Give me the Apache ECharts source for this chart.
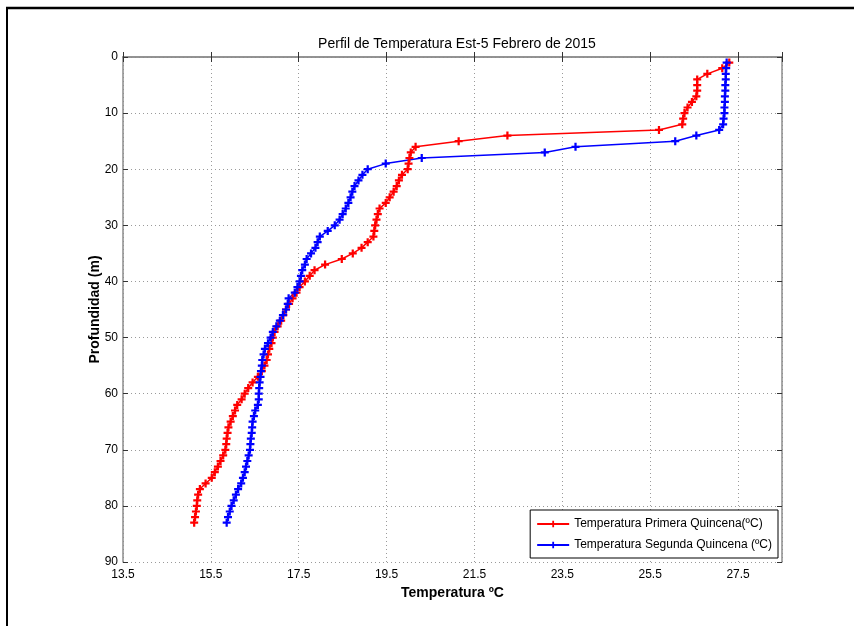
<!DOCTYPE html>
<html>
<head>
<meta charset="utf-8">
<script src="https://cdn.jsdelivr.net/npm/echarts@6/dist/echarts.min.js"></script>
<style>
  html, body { margin: 0; padding: 0; background: #fff; }
  #chart { width: 854px; height: 626px; }
</style>
</head>
<body>
<div id="chart"></div>
<script>
// profundidad (m), 1..83
var depths = [];
for (var d = 1; d <= 83; d++) depths.push(d);

var tempPrimera = [
    27.30, 27.14, 26.80, 26.57, 26.57, 26.57, 26.55, 26.45, 26.35, 26.28,
    26.25, 26.23, 25.70, 22.25, 21.14, 20.16, 20.05, 20.02, 20.00, 19.98,
    19.85, 19.78, 19.73, 19.66, 19.57, 19.48, 19.34, 19.30, 19.27, 19.24,
    19.22, 19.20, 19.07, 18.93, 18.73, 18.48, 18.10, 17.86, 17.75, 17.64,
    17.52, 17.45, 17.36, 17.28, 17.21, 17.15, 17.10, 17.02, 16.95, 16.91,
    16.88, 16.83, 16.80, 16.77, 16.72, 16.66, 16.57, 16.45, 16.35, 16.27,
    16.20, 16.10, 16.05, 16.00, 15.95, 15.90, 15.88, 15.86, 15.85, 15.83,
    15.78, 15.72, 15.66, 15.59, 15.52, 15.38, 15.25, 15.21, 15.19, 15.18,
    15.16, 15.14, 15.12
];

var tempSegunda = [
    27.24, 27.23, 27.22, 27.22, 27.21, 27.21, 27.20, 27.20, 27.19, 27.19,
    27.17, 27.16, 27.07, 26.55, 26.07, 23.80, 23.10, 20.30, 19.48, 19.07,
    18.95, 18.86, 18.77, 18.72, 18.68, 18.63, 18.57, 18.50, 18.43, 18.32,
    18.16, 17.98, 17.93, 17.88, 17.78, 17.68, 17.64, 17.58, 17.55, 17.52,
    17.47, 17.41, 17.27, 17.25, 17.21, 17.14, 17.07, 16.99, 16.91, 16.86,
    16.80, 16.73, 16.70, 16.67, 16.66, 16.64, 16.63, 16.61, 16.60, 16.59,
    16.59, 16.57, 16.51, 16.48, 16.45, 16.44, 16.43, 16.41, 16.40, 16.39,
    16.36, 16.33, 16.30, 16.27, 16.23, 16.19, 16.12, 16.07, 16.02, 15.97,
    15.93, 15.89, 15.86
];

var xTicks = { min: 13.5, max: 28.5, interval: 2 };
var yTicks = { min: 0, max: 90, interval: 10 };

var seriesNames = ['Temperatura Primera Quincena(ºC)', 'Temperatura Segunda Quincena (ºC)'];

var font = '"Liberation Sans Narrow", "Liberation Sans", Arial, sans-serif';
// marcador "+"
var plusSymbol = 'path://M3.6,0H6.4V3.6H10V6.4H6.4V10H3.6V6.4H0V3.6H3.6Z';

function toPairs(temps, deps) {
    var data = [];
    for (var i = 0; i < temps.length; i++) {
        data.push([temps[i], deps[i]]);
    }
    return data;
}

function drawProfile(chartname) {
    var myChart = echarts.init(document.getElementById(chartname));

    var axisLineStyle = { color: '#8c8c8c', width: 1.5 };
    var tickStyle = { show: true, inside: true, length: 5, lineStyle: { color: '#333', width: 1 } };
    var splitStyle = { show: true, lineStyle: { color: '#9a9a9a', type: [1, 3], width: 1 } };

    var option = {
        animation: false,
        backgroundColor: '#fff',
        title: {
            text: 'Perfil de Temperatura Est-5 Febrero de 2015',
            left: 452,
            textAlign: 'center',
            top: 32,
            textStyle: { fontFamily: font, fontSize: 14, fontWeight: 'normal', color: '#000' }
        },
        grid: { left: 123, right: 72, top: 57, bottom: 64, containLabel: false },
        legend: {
            data: seriesNames,
            orient: 'vertical',
            right: 76,
            bottom: 68,
            backgroundColor: '#fff',
            borderColor: '#000',
            borderWidth: 1,
            borderRadius: 0,
            padding: [8, 6, 7, 6],
            itemGap: 9,
            itemWidth: 32,
            itemHeight: 8,
            textStyle: { fontFamily: font, fontSize: 12, color: '#000' }
        },
        xAxis: [
            {
                type: 'value',
                min: xTicks.min, max: xTicks.max, interval: xTicks.interval,
                name: 'Temperatura ºC',
                nameLocation: 'middle',
                nameGap: 24,
                nameTextStyle: { fontFamily: font, fontSize: 14, fontWeight: 'bold', color: '#000' },
                axisLine: { show: true, lineStyle: axisLineStyle },
                axisTick: tickStyle,
                splitLine: splitStyle,
                axisLabel: {
                    margin: 7,
                    fontFamily: font, fontSize: 12, color: '#000',
                    formatter: function (v) { return v >= 28 ? '' : v.toFixed(1); }
                }
            },
            {
                type: 'value', position: 'top',
                min: xTicks.min, max: xTicks.max, interval: xTicks.interval,
                axisLine: { show: true, lineStyle: axisLineStyle },
                axisTick: tickStyle,
                splitLine: { show: false },
                axisLabel: { show: false }
            }
        ],
        yAxis: [
            {
                type: 'value',
                inverse: true,
                min: yTicks.min, max: yTicks.max, interval: yTicks.interval,
                name: 'Profundidad (m)',
                nameLocation: 'middle',
                nameGap: 21,
                nameMoveOverlap: false,
                nameTextStyle: { fontFamily: font, fontSize: 14, fontWeight: 'bold', color: '#000' },
                axisLine: { show: true, lineStyle: axisLineStyle },
                axisTick: tickStyle,
                splitLine: splitStyle,
                axisLabel: { margin: 5, fontFamily: font, fontSize: 12, color: '#000' }
            },
            {
                type: 'value', position: 'right',
                inverse: true,
                min: yTicks.min, max: yTicks.max, interval: yTicks.interval,
                axisLine: { show: true, lineStyle: axisLineStyle },
                axisTick: tickStyle,
                splitLine: { show: false },
                axisLabel: { show: false }
            }
        ],
        series: [
            {
                name: seriesNames[0],
                type: 'line',
                color: '#ff0000',
                symbol: plusSymbol,
                symbolSize: 8,
                showAllSymbol: true,
                lineStyle: { width: 1.5 },
                data: toPairs(tempPrimera, depths)
            },
            {
                name: seriesNames[1],
                type: 'line',
                color: '#0000ff',
                symbol: plusSymbol,
                symbolSize: 8,
                showAllSymbol: true,
                lineStyle: { width: 1.5 },
                data: toPairs(tempSegunda, depths)
            }
        ],
        // marco negro de la figura
        graphic: [
            { type: 'line', shape: { x1: 6, y1: 8, x2: 854, y2: 8 }, style: { stroke: '#000', lineWidth: 2.5 } },
            { type: 'line', shape: { x1: 7, y1: 8, x2: 7, y2: 626 }, style: { stroke: '#000', lineWidth: 2 } }
        ]
    };

    myChart.setOption(option);
}

drawProfile('chart');
</script>
</body>
</html>
